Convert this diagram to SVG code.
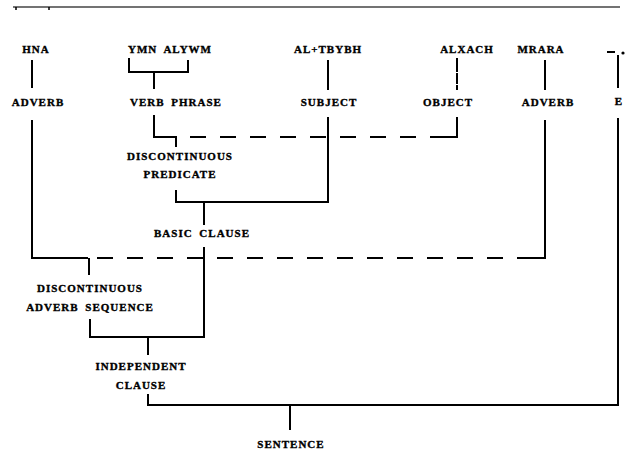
<svg xmlns="http://www.w3.org/2000/svg" width="634" height="452" viewBox="0 0 634 452">
  <style>
    .lbl { font-family: "Liberation Serif", "Times New Roman", serif; font-weight: bold; font-size: 11px; letter-spacing: 1px; text-anchor: middle; fill: #000; stroke: #000; stroke-width: 0.35; word-spacing: 3px; }
    .ln { fill: none; stroke: #000; stroke-width: 2; stroke-linecap: butt; stroke-linejoin: miter; }
    .dash { fill: none; stroke: #000; stroke-width: 2; stroke-dasharray: 16 14; }
    .broken { fill: none; stroke: #000; stroke-width: 2; stroke-dasharray: 14 1 11 1 8; }
  </style>
  <rect width="634" height="452" fill="#fff"/>

  <!-- rule across the top of the page -->
  <path d="M13 7 H620" stroke="#444" stroke-width="1.5" fill="none"/>
  <path d="M16 7 V10 M49 7 V10" stroke="#000" stroke-width="1.5" fill="none"/>

  <!-- connectors -->
  <g id="connectors">
    <!-- HNA -> ADVERB -> discontinuous adverb sequence -->
    <path class="ln" d="M32 60 V88"/>
    <path class="ln" d="M32 120 V258 H88"/>
    <path class="ln" d="M89 258 V275"/>
    <path class="dash" d="M97 258 H545"/>
    <!-- MRARA -> ADVERB -->
    <path class="ln" d="M545 60 V90"/>
    <path class="ln" d="M545 120 V258 H528"/>
    <!-- YMN ALYWM -> VERB PHRASE -->
    <path class="ln" d="M129 58 V72 H188 V60"/>
    <path class="ln" d="M154 72 V89"/>
    <!-- VERB PHRASE + OBJECT -> DISCONTINUOUS PREDICATE -->
    <path class="ln" d="M154 115 V137 H176 V147"/>
    <path class="dash" d="M190 137 H457"/>
    <path class="ln" d="M457 117 V137 H442"/>
    <!-- ALXACH -> OBJECT -->
    <path class="broken" d="M457 58 V90"/>
    <!-- AL+TBYBH -> SUBJECT -> BASIC CLAUSE -->
    <path class="ln" d="M328 60 V90"/>
    <path class="ln" d="M328 117 V202 H176 V190"/>
    <path class="ln" d="M204 202 V225"/>
    <!-- BASIC CLAUSE + ADVERB SEQUENCE -> INDEPENDENT CLAUSE -->
    <path class="ln" d="M204 247 V337 H90 V319"/>
    <path class="ln" d="M148 337 V355"/>
    <!-- E -->
    <path class="ln" d="M607 52 H615"/>
    <circle cx="623" cy="53" r="1.6" fill="#000"/>
    <rect x="617" y="55" width="2" height="33" fill="#000"/>
    <!-- INDEPENDENT CLAUSE + E -> SENTENCE -->
    <path class="ln" d="M618 118 V405 H148 V394"/>
    <path class="ln" d="M290 405 V430"/>
  </g>

  <!-- terminal words -->
  <g id="hna"><text class="lbl" x="36" y="53">HNA</text></g>
  <g id="ymn-alywm"><text class="lbl" x="170" y="53">YMN ALYWM</text></g>
  <g id="al-tbybh"><text class="lbl" x="328" y="53">AL+TBYBH</text></g>
  <g id="alxach"><text class="lbl" x="467" y="53">ALXACH</text></g>
  <g id="mrara"><text class="lbl" x="541" y="53">MRARA</text></g>

  <!-- word classes -->
  <g id="adverb-1"><text class="lbl" x="38" y="106">ADVERB</text></g>
  <g id="verb-phrase"><text class="lbl" x="176" y="106">VERB PHRASE</text></g>
  <g id="subject"><text class="lbl" x="329" y="106">SUBJECT</text></g>
  <g id="object"><text class="lbl" x="448" y="106">OBJECT</text></g>
  <g id="adverb-2"><text class="lbl" x="548" y="106">ADVERB</text></g>
  <g id="e"><text class="lbl" x="619" y="105">E</text></g>

  <!-- constituents -->
  <g id="discontinuous-predicate">
    <text class="lbl" x="180" y="160">DISCONTINUOUS</text>
    <text class="lbl" x="180" y="178">PREDICATE</text>
  </g>
  <g id="basic-clause"><text class="lbl" x="202" y="237">BASIC CLAUSE</text></g>
  <g id="discontinuous-adverb-sequence">
    <text class="lbl" x="90" y="292">DISCONTINUOUS</text>
    <text class="lbl" x="90" y="311">ADVERB SEQUENCE</text>
  </g>
  <g id="independent-clause">
    <text class="lbl" x="141" y="370">INDEPENDENT</text>
    <text class="lbl" x="141" y="389">CLAUSE</text>
  </g>
  <g id="sentence"><text class="lbl" x="291" y="448">SENTENCE</text></g>
</svg>
